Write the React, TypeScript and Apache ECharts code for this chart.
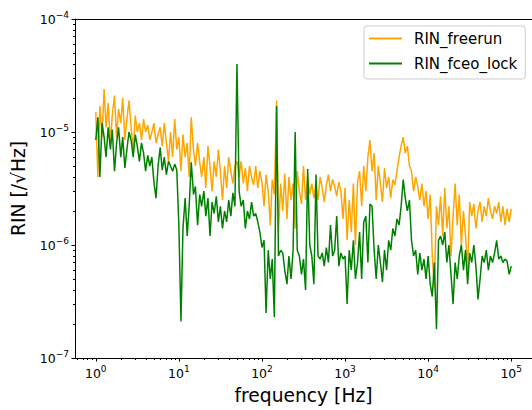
import React, { useEffect, useRef } from "react";
import * as echarts from "echarts";

// Frequencies (Hz), log-spaced sample grid
const freqHz = [
  1, 1.06, 1.12, 1.19, 1.26, 1.33, 1.41, 1.5, 1.58, 1.68, 1.78, 1.88, 2, 2.11, 2.24, 2.37, 2.51, 2.66, 2.82, 2.99,
  3.16, 3.35, 3.55, 3.76, 3.98, 4.22, 4.47, 4.73, 5.01, 5.31, 5.62, 5.96, 6.31, 6.68, 7.08, 7.5, 7.94, 8.41, 8.91, 9.44,
  10, 10.6, 11.2, 11.9, 12.6, 13.3, 14.1, 15, 15.8, 16.8, 17.8, 18.8, 20, 21.1, 22.4, 23.7, 25.1, 26.6, 28.2, 29.9,
  31.6, 33.5, 35.5, 37.6, 39.8, 42.2, 44.7, 47.3, 50, 53.1, 56.2, 59.6, 63.1, 66.8, 70.8, 75, 79.4, 84.1, 89.1, 94.4,
  100, 106, 112, 119, 126, 133, 141, 150, 158, 168, 178, 188, 200, 211, 224, 237, 251, 266, 282, 299,
  316, 335, 355, 376, 398, 422, 447, 473, 501, 531, 562, 596, 631, 668, 708, 750, 794, 841, 891, 944,
  1000, 1059, 1122, 1189, 1259, 1334, 1413, 1496, 1585, 1679, 1778, 1884, 1995, 2113, 2239, 2371, 2512, 2661, 2818, 2985,
  3162, 3350, 3548, 3758, 3981, 4217, 4467, 4732, 5012, 5309, 5623, 5957, 6310, 6683, 7079, 7499, 7943, 8414, 8913, 9441,
  10000, 10593, 11220, 11885, 12589, 13335, 14125, 14962, 15849, 16788, 17783, 18836, 19953, 21135, 22387, 23714, 25119, 26607, 28184, 29854,
  31623, 33497, 35481, 37584, 39811, 42170, 44668, 47315, 50119, 53088, 56234, 59566, 63096, 66834, 70795, 74989, 79433, 84140, 89125, 94406,
  100000,
];

// RIN values in units of 1e-6 /sqrt(Hz)
const rinFreerunE6 = [
  15, 4, 17, 9, 24, 11, 18, 8, 14, 21,
  9, 16, 12, 20, 8.5, 13, 19, 11, 7, 14,
  10, 12, 8.5, 13, 10, 11.5, 8.5, 10, 12, 8,
  9.5, 11, 7.5, 12, 8, 5.5, 10, 6, 13, 7,
  9, 4.5, 9.5, 6, 8, 4, 13.5, 7, 5, 8,
  5.5, 4, 6, 3.2, 7.5, 5, 3, 5.5, 4, 7,
  4.5, 2.5, 5, 3.2, 6, 4.5, 3.5, 5, 5.5, 4,
  5.5, 3.5, 4.8, 3, 5, 4, 3.4, 5, 3.2, 4.5,
  3.6, 2.2, 4.2, 3.0, 1.5, 3.8, 2.8, 19, 1.3, 3.5,
  2.0, 4.3, 1.7, 4.0, 2.5, 3.5, 1.4, 4.5, 3.0, 2.3,
  5.0, 2.5, 4, 2.8, 3.5, 2.6, 3.6, 2.5, 4.0, 3.2,
  2.4, 3.4, 4.2, 3.0, 3.8, 3.3, 2.7, 3.6, 3.0, 1.7,
  3.2, 1.1, 2.5, 1.3, 3.5, 1.0, 3.6, 4.5, 2.2, 5.0,
  3.0, 6.0, 8.5, 4.5, 6.5, 2.5, 5.0, 3.5, 2.4, 4.8,
  3.2, 4.0, 2.6, 3.8, 3.4, 4.5, 6, 7.5, 9, 6.5,
  7.5, 5, 4.5, 3.0, 4.0, 3.3, 2.5, 3.5, 2.2, 3.0,
  1.7, 2.8, 0.8, 0.42, 2.2, 1.5, 2.7, 1.2, 3.2, 1.4,
  2.2, 0.8, 1.8, 3.5, 1.5, 2.8, 1.0, 2.0, 1.2, 0.6,
  2.4, 1.8, 2.3, 1.4, 2.0, 2.4, 1.6, 2.2, 1.8, 2.6,
  2.0, 1.7, 2.2, 1.9, 2.4, 1.6, 2.2, 1.5, 2.1, 1.6,
  2.1,
];

const rinFceoLockE6 = [
  8.5, 13.5, 4.0, 12, 9, 6, 11, 7, 10.5, 4.5,
  8, 11, 6, 9, 4.8, 7, 10, 8.5, 6, 9.5,
  7.5, 5.5, 8, 6.5, 4.5, 6.2, 5, 6, 3.6, 2.6,
  5, 7.3, 4.6, 6, 4.2, 5.5, 5, 4.5, 5.2, 4.6,
  1.5, 0.21, 1.4, 2.6, 1.2, 2.2, 5.4, 2.8, 3.3, 1.5,
  2.8, 2.2, 3.0, 1.8, 2.6, 1.2, 2.4, 1.9, 2.7, 1.6,
  2.2, 1.4, 2.0, 1.6, 2.5, 1.8, 2.9, 2.2, 40, 3.0,
  2.2, 2.5, 1.4, 2.0, 1.7, 2.4, 1.8, 1.9, 1.6, 1.3,
  0.95, 1.1, 0.25, 0.9, 0.5, 0.75, 0.23, 17, 0.8, 0.9,
  0.85, 0.6, 0.45, 0.8, 0.5, 0.9, 10, 0.9, 0.8, 0.55,
  0.75, 0.4, 4.7, 1.0, 0.8, 0.45, 4.2, 0.8, 0.75, 0.85,
  0.65, 0.95, 0.7, 1.5, 0.8, 0.9, 1.8, 0.65, 0.85, 0.75,
  0.8, 0.3, 0.9, 0.6, 1.1, 0.5, 0.7, 1.3, 0.5, 1.6,
  1.8, 0.7, 2.3, 2.2, 0.9, 0.5, 1.0, 0.7, 0.47, 0.9,
  0.6, 1.1, 0.9, 1.4, 1.2, 1.7, 1.5, 2.2, 3.8, 2.6,
  2.0, 2.5, 1.1, 0.8, 0.9, 0.55, 0.85, 0.6, 0.75, 0.5,
  0.8, 0.45, 0.35, 0.7, 0.18, 1.1, 1.2, 1.0, 1.3, 0.7,
  1.0, 0.55, 0.3, 0.7, 0.5, 0.8, 1.0, 0.6, 0.9, 0.45,
  0.85, 0.7, 1.0, 0.65, 0.33, 0.5, 0.8, 0.7, 0.9, 0.6,
  0.8, 0.7, 0.85, 1.1, 0.75, 0.8, 0.7, 0.75, 0.72, 0.55,
  0.65,
];

const seriesNames = ["RIN_freerun", "RIN_fceo_lock"];
const seriesColors = ["#ffa500", "#008000"];
const xMajorTicks = [1, 10, 100, 1000, 10000, 100000];
const yMajorTicks = [1e-7, 1e-6, 1e-5, 1e-4];
const minorMultipliers = [2, 3, 4, 5, 6, 7, 8, 9];
const xDecades = [0.1, 1, 10, 100, 1000, 10000, 100000];
const yDecades = [1e-7, 1e-6, 1e-5];
const X_MIN = 0.5623;
const X_MAX = 177828;
const Y_MIN = 1e-7;
const Y_MAX = 1e-4;
const xTitle = "frequency [Hz]";
const yTitle = "RIN [/√Hz]";

const FONT = "DejaVu Sans";

function minorTicks(decades: number[], lo: number, hi: number) {
  const out: number[] = [];
  decades.forEach((d) => minorMultipliers.forEach((m) => {
    const v = d * m;
    if (v > lo && v < hi) out.push(v);
  }));
  return out;
}

function expLabel(v: number) {
  const e = Math.round(Math.log10(v));
  const s = e < 0 ? "\u2212" + String(-e) : String(e);
  return "{b|10}{s|" + s + "}";
}

const labelRich = {
  b: { fontSize: 12.5, fontFamily: FONT, color: "#000" },
  s: { fontSize: 9, fontFamily: FONT, color: "#000", padding: [0, 0, 9, 0] },
};

export default function App() {
  const ref = useRef<HTMLDivElement>(null);
  useEffect(() => {
    if (!ref.current) return;
    const chart = echarts.init(ref.current, undefined, { renderer: "svg" });
    const xMinor = minorTicks(xDecades, X_MIN, X_MAX);
    const yMinor = minorTicks(yDecades, Y_MIN, Y_MAX);
    const lineAxis = { show: true, onZero: false, lineStyle: { color: "#000", width: 1 } };
    const tickStyle = { color: "#000", width: 1 };
    const seriesData = [rinFreerunE6, rinFceoLockE6];
    chart.setOption({
      animation: false,
      backgroundColor: "#ffffff",
      grid: { left: 75, top: 19, width: 459, height: 341, containLabel: false },
      legend: {
        data: seriesNames,
        left: 364,
        top: 26,
        orient: "vertical",
        icon: "rect",
        itemWidth: 33,
        itemHeight: 2,
        itemGap: 10,
        padding: [5, 8, 8, 5],
        backgroundColor: "rgba(255,255,255,0.8)",
        borderColor: "#cccccc",
        borderWidth: 1,
        borderRadius: 3,
        textStyle: { fontSize: 15, fontFamily: FONT, color: "#000", padding: [0, 0, 0, 7] },
      },
      xAxis: [
        {
          type: "log", logBase: 10, min: X_MIN, max: X_MAX, position: "bottom",
          axisLine: lineAxis,
          axisTick: { show: true, customValues: xMajorTicks, length: 3.5, lineStyle: tickStyle },
          axisLabel: { customValues: xMajorTicks, formatter: expLabel, rich: labelRich, margin: 6 },
          splitLine: { show: false }, minorTick: { show: false },
          name: xTitle, nameLocation: "middle", nameGap: 28,
          nameTextStyle: { fontSize: 18.7, fontFamily: FONT, color: "#000" },
        },
        {
          type: "log", logBase: 10, min: X_MIN, max: X_MAX, position: "bottom",
          axisLine: { show: false },
          axisTick: { show: true, customValues: xMinor, length: 2, lineStyle: tickStyle },
          axisLabel: { show: false }, splitLine: { show: false },
        },
        {
          type: "log", logBase: 10, min: X_MIN, max: X_MAX, position: "top",
          axisLine: lineAxis, axisTick: { show: false }, axisLabel: { show: false }, splitLine: { show: false },
        },
      ],
      yAxis: [
        {
          type: "log", logBase: 10, min: Y_MIN, max: Y_MAX, position: "left",
          axisLine: lineAxis,
          axisTick: { show: true, customValues: yMajorTicks, length: 3.5, lineStyle: tickStyle },
          axisLabel: { customValues: yMajorTicks, formatter: expLabel, rich: labelRich, margin: 6 },
          splitLine: { show: false },
          name: yTitle, nameLocation: "middle", nameGap: 47, nameRotate: 90,
          nameTextStyle: { fontSize: 18.7, fontFamily: FONT, color: "#000" },
        },
        {
          type: "log", logBase: 10, min: Y_MIN, max: Y_MAX, position: "left",
          axisLine: { show: false },
          axisTick: { show: true, customValues: yMinor, length: 2, lineStyle: tickStyle },
          axisLabel: { show: false }, splitLine: { show: false },
        },
      ],
      series: seriesNames.map((name, k) => ({
        name,
        type: "line",
        xAxisIndex: 0,
        yAxisIndex: 0,
        data: freqHz.map((f, i) => [f, seriesData[k][i] * 1e-6]),
        showSymbol: false,
        symbol: "none",
        lineStyle: { width: 1.5, color: seriesColors[k] },
        itemStyle: { color: seriesColors[k] },
        emphasis: { disabled: true },
        clip: true,
        z: 2 + k,
      })),
    });
    return () => chart.dispose();
  }, []);
  return (
    <div
      ref={ref}
      style={{ position: "fixed", left: 0, top: 0, width: 532, height: 410, background: "#fff" }}
    />
  );
}
